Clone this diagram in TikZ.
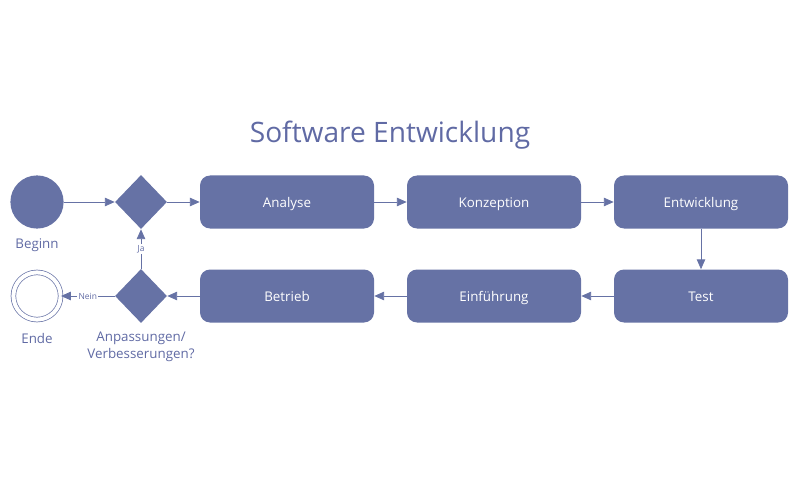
\documentclass[tikz,border=0pt]{standalone}
\usepackage{fontspec}
\setmainfont{Open Sans}
\usetikzlibrary{arrows.meta,shapes.geometric}
\definecolor{flowblue}{RGB}{102,114,165}
\definecolor{flowtext}{RGB}{96,106,164}
\begin{document}
\begin{tikzpicture}
        \tikzstyle{process}=[rectangle,rounded corners=0.25cm,fill=flowblue,text=white,minimum width=4.35cm,minimum height=1.325cm,text height=1.6ex,text depth=0.15ex,font=\fontsize{9.5}{11}\selectfont]
        \tikzstyle{decision}=[diamond,fill=flowblue,minimum width=1.3cm,minimum height=1.35cm,inner sep=0pt]
        \tikzstyle{caption}=[text=flowtext,font=\fontsize{9.5}{12}\selectfont,align=center]
        \tikzstyle{answer}=[fill=white,text=flowtext,font=\fontsize{6}{7}\selectfont,inner sep=1pt]
        \tikzstyle{edge}=[draw, flowblue, line width=0.6pt, -{Triangle[length=7pt,width=6pt]}]
        \useasboundingbox (0,0) rectangle (20,12);
        \begin{scope}
                \node [text=flowtext,font=\fontsize{20}{24}\selectfont] (title) at (9.75,8.625) {Software Entwicklung};
                \node [circle,fill=flowblue,minimum size=1.33cm,inner sep=0pt] (st) at (0.925,6.95) {};
                \node [circle,draw=flowblue,line width=0.5pt,double=white,double distance=0.1cm,minimum size=1.18cm,inner sep=0pt] (en) at (0.925,4.6) {};
                \node [decision] (d1) at (3.525,6.95) {};
                \node [decision] (d2) at (3.525,4.6) {};
                \node [process] (p1) at (7.175,6.95) {Analyse};
                \node [process] (p2) at (12.35,6.95) {Konzeption};
                \node [process] (p3) at (17.525,6.95) {Entwicklung};
                \node [process] (p4) at (17.525,4.6) {Test};
                \node [process] (p5) at (12.35,4.6) {Einführung};
                \node [process] (p6) at (7.175,4.6) {Betrieb};
                \node [caption] (stl) at (0.925,5.875) {Beginn};
                \node [caption] (enl) at (0.925,3.53) {Ende};
                \node [caption] (d2l) at (3.525,3.32) {Anpassungen/\\Verbesserungen?};
                \path[edge] (st) edge (d1);
                \path[edge] (d1) edge (p1);
                \path[edge] (p1) edge (p2);
                \path[edge] (p2) edge (p3);
                \path[edge] (p3) edge (p4);
                \path[edge] (p4) edge (p5);
                \path[edge] (p5) edge (p6);
                \path[edge] (p6) edge (d2);
                \path[edge] (d2) edge node[answer] {Ja} (d1);
                \path[edge] (d2) edge node[answer] {Nein} (en);
        \end{scope}
\end{tikzpicture}
\end{document}
